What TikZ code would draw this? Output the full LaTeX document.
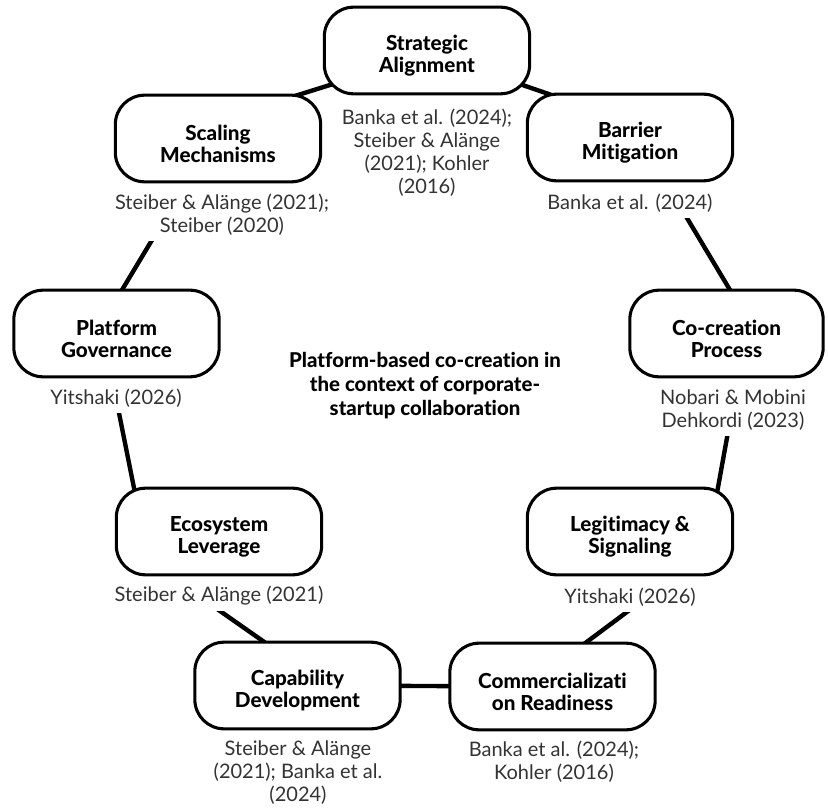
\documentclass[tikz,border=0pt]{standalone}
\usepackage{fontspec}
\setmainfont{Lato}[Ligatures=NoCommon]
\IfFontExistsTF{Lato Heavy}{\newfontfamily\heavyfont{Lato Heavy}[Ligatures=NoCommon]}{\newcommand\heavyfont{\bfseries}}
\usetikzlibrary{calc}
\pgfdeclarelayer{background}
\pgfsetlayers{background,main}
\definecolor{citegray}{HTML}{333333}
\begin{document}
\begin{tikzpicture}[x=0.75pt,y=-0.75pt,
  box/.style={draw=black, line width=2.3pt, rounded corners=22pt, fill=white,
    minimum width=154pt, minimum height=65pt, inner sep=0pt},
  lbl/.style={align=center, inner sep=0pt, font=\fontsize{15.5}{16.6}\selectfont\heavyfont},
  cite/.style={fill=white, align=center, text=citegray, inner xsep=2pt, inner ysep=4pt,
    font=\fontsize{15}{17.3}\selectfont},
  conn/.style={line width=3.3pt, draw=black},
  centre/.style={align=center, font=\fontsize{15.3}{18}\selectfont\heavyfont}]
\useasboundingbox (0,0) rectangle (828,809);

% boxes
\node[box] (strat) at (427,50.5) {};
\node[box] (scal) at (218,138.5) {};
\node[box] (barr) at (630,137.5) {};
\node[box] (plat) at (116.5,333.5) {};
\node[box, minimum width=145pt] (cocr) at (726.5,333.5) {};
\node[box] (eco) at (219,531.5) {};
\node[box] (legi) at (630,531.5) {};
\node[box] (capa) at (297.5,685.5) {};
\node[box] (comm) at (552.5,686.5) {};

% box labels
\node[lbl] (stratt) at ($(strat.center)+(0,5)$) {Strategic\\Alignment};
\node[lbl] (scalt) at ($(scal.center)+(0,5)$) {Scaling\\Mechanisms};
\node[lbl] (barrt) at ($(barr.center)+(0,5)$) {Barrier\\Mitigation};
\node[lbl] (platt) at ($(plat.center)+(0,5)$) {Platform\\Governance};
\node[lbl] (cocrt) at ($(cocr.center)+(0,5)$) {Co-creation\\Process};
\node[lbl] (ecot) at ($(eco.center)+(0,5)$) {Ecosystem\\Leverage};
\node[lbl] (legit) at ($(legi.center)+(0,5)$) {Legitimacy \&\\Signaling};
\node[lbl] (capat) at ($(capa.center)+(0,5)$) {Capability\\Development};
\node[lbl] (commt) at ($(comm.center)+(0,5)$) {Commercializati\\on Readiness};

% citations
\node[cite] (stratc) at (427,153) {Banka et al. (2024);\\Steiber \& Alänge\\(2021); Kohler\\(2016)};
\node[cite] (scalc) at (222,215) {Steiber \& Alänge (2021);\\Steiber (2020)};
\node[cite] (barrc) at (630,203) {Banka et al. (2024)};
\node[cite] (platc) at (116,398) {Yitshaki (2026)};
\node[cite] (cocrc) at (733,410) {Nobari \& Mobini\\Dehkordi (2023)};
\node[cite] (legic) at (630,597) {Yitshaki (2026)};
\node[cite] (ecoc) at (219,596) {Steiber \& Alänge (2021)};
\node[cite] (capac) at (298,773) {Steiber \& Alänge\\(2021); Banka et al.\\(2024)};
\node[cite] (commc) at (554,762) {Banka et al. (2024);\\Kohler (2016)};

% centre title
\node[centre] (title) at (425,386) {Platform-based co-creation in\\the context of corporate-\\startup collaboration};

% connectors
\begin{pgfonlayer}{background}
\draw[conn] ($(scal.center)+(64,-38.5)$) -- ($(strat.center)+(-81,29.5)$);
\draw[conn] ($(strat.center)+(81,29.5)$) -- ($(barr.center)+(-64,-37.5)$);
\draw[conn] ($(scal.center)+(-51,76.5)$) -- ($(plat.center)+(2.5,-38.5)$);
\draw[conn] ($(barr.center)+(48,65.5)$) -- ($(cocr.center)+(6.5,-38.5)$);
\draw[conn] ($(plat.center)+(-0.5,64.5)$) -- ($(eco.center)+(-84,-38.5)$);
\draw[conn] ($(cocr.center)+(5.5,76.5)$) -- ($(legi.center)+(87,-38.5)$);
\draw[conn] ($(eco.center)+(-19,65.5)$) -- ($(capa.center)+(-27.5,-39.5)$);
\draw[conn] ($(legi.center)+(17,65.5)$) -- ($(comm.center)+(27.5,-39.5)$);
\draw[conn] (capa.center) -- (comm.center);
\end{pgfonlayer}
\end{tikzpicture}
\end{document}
